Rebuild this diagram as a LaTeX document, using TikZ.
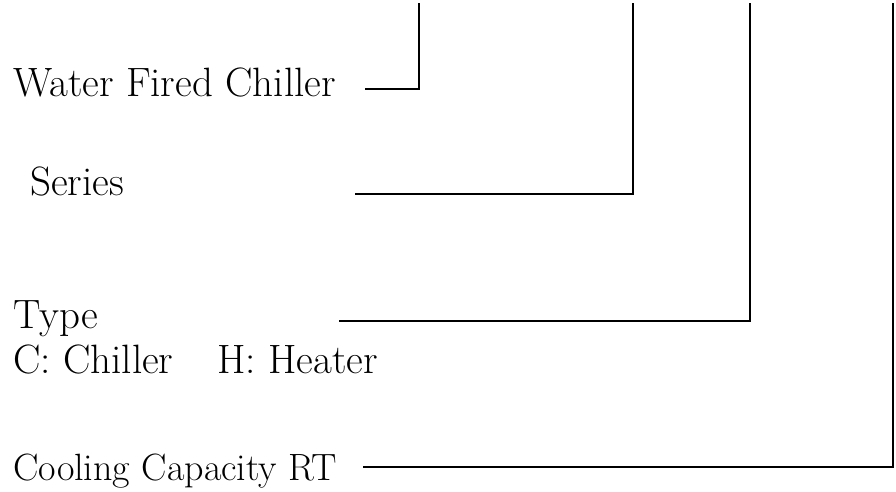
\documentclass[tikz,border=0pt]{standalone}
\usepackage{fontspec}
\begin{document}
\begin{tikzpicture}[x=1pt,y=-1pt,
  lbl/.style={anchor=base west, inner sep=0pt, font=\fontsize{41}{48}\selectfont},
  lead/.style={line width=1.6pt, line join=miter}]
\useasboundingbox (0,0) rectangle (896,492);
\node[lbl] (wfc) at (13,97) {Water Fired Chiller};
\node[lbl] (ser) at (30,195) {Series};
\node[lbl] (typ) at (13,328) {Type};
\node[lbl] (typ2) at (13,373) {C: Chiller\hspace{44pt}H: Heater};
\node[lbl, font=\fontsize{38}{44}\selectfont] (cap) at (13,480) {Cooling Capacity RT};
\coordinate (t1) at (419,3); \coordinate (e1) at (365,89);
\coordinate (t2) at (633,3); \coordinate (e2) at (355,194);
\coordinate (t3) at (750,3); \coordinate (e3) at (339,321);
\coordinate (t4) at (893,3); \coordinate (e4) at (363,467);
\draw[lead] (e1) -| (t1);
\draw[lead] (e2) -| (t2);
\draw[lead] (e3) -| (t3);
\draw[lead] (e4) -| (t4);
\end{tikzpicture}
\end{document}
